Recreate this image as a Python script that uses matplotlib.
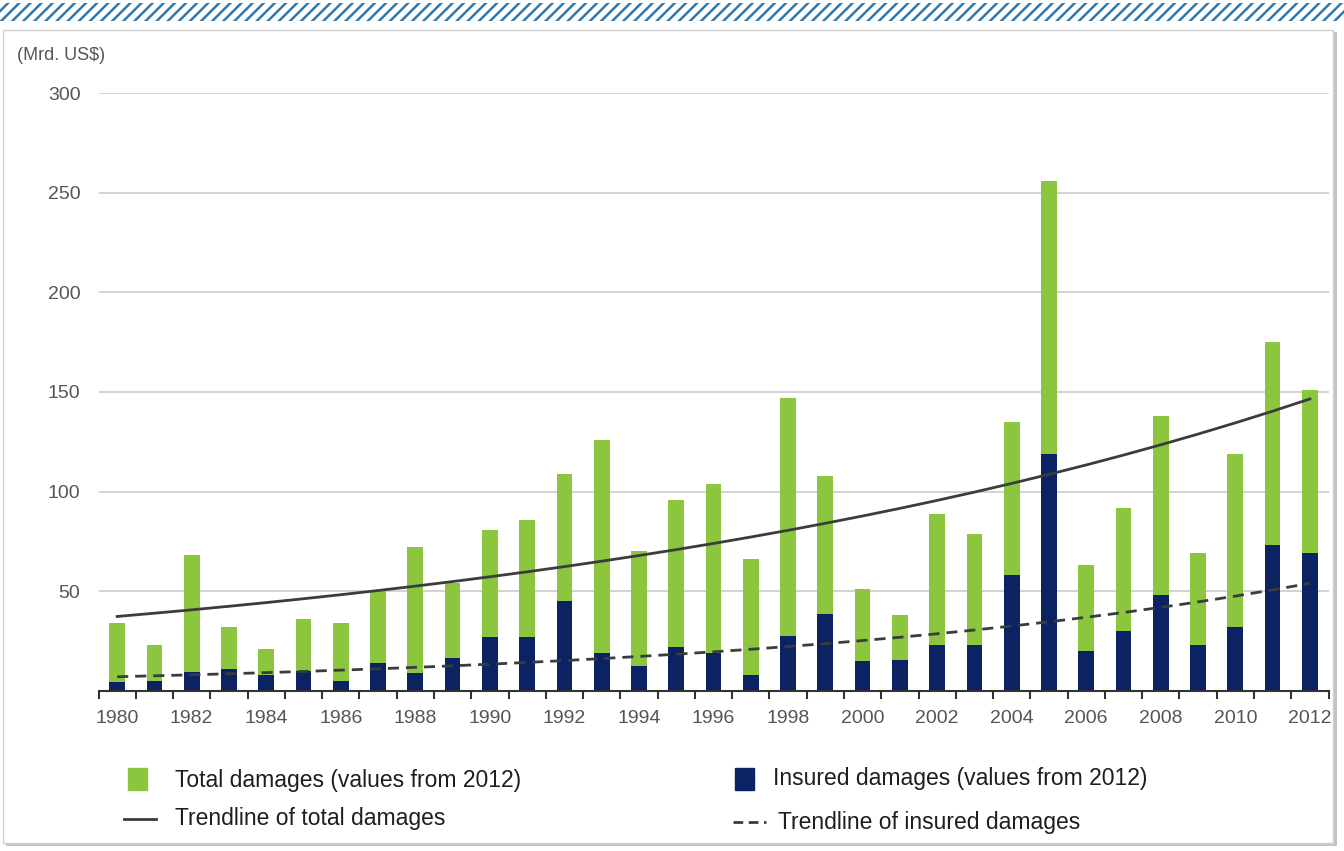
import numpy as np
import matplotlib.pyplot as plt
from matplotlib.patches import Rectangle
from matplotlib.lines import Line2D

years = np.arange(1980, 2013)
total = [34, 23, 68, 32, 21, 36, 34, 50, 72, 54, 81, 86, 109, 126, 70, 96, 104,
         66, 147, 108, 51, 38, 89, 79, 135, 256, 63, 92, 138, 69, 119, 175, 151]
insured = [4.5, 5, 9.5, 11, 8, 10, 5, 14, 9, 16.5, 27, 27, 45, 19, 12.5, 22, 19,
           8, 27.5, 38.5, 15, 15.5, 23, 23, 58, 119, 20, 30, 48, 23, 32, 73, 69]
xlabels = [str(y) for y in range(1980, 2013, 2)]

GREEN = '#8cc63e'
NAVY = '#0b2263'
TREND = '#3c3c3c'
W, H = 1344, 851

plt.rcParams['hatch.linewidth'] = 1.8
fig = plt.figure(figsize=(W / 100, H / 100), dpi=100)

# striped band and framed panel behind the chart
fig.patches.append(Rectangle((0, 1 - 21 / H), 1, 18 / H, transform=fig.transFigure,
                             facecolor='white', edgecolor='#3079b0', hatch='///',
                             linewidth=0, zorder=-3))
fig.patches.append(Rectangle((6 / W, 1 - 846 / H), 1331 / W, 814 / H,
                             transform=fig.transFigure, facecolor='#c4c4c4',
                             edgecolor='none', zorder=-3))
fig.patches.append(Rectangle((3 / W, 1 - 843 / H), 1330 / W, 813 / H,
                             transform=fig.transFigure, facecolor='white',
                             edgecolor='#d0d0d0', linewidth=1, zorder=-2))

ax = fig.add_axes([98.5 / W, 1 - 691 / H, 1230 / W, 598 / H])
ax.set_facecolor('none')
ax.set_zorder(2)

# exponential trend lines fitted to each series
t_fit = np.polyfit(years, np.log(total), 1)
i_fit = np.polyfit(years, np.log(insured), 1)
t_trend = np.exp(np.polyval(t_fit, years))
i_trend = np.exp(np.polyval(i_fit, years))

ax.bar(years, total, width=0.42, color=GREEN, zorder=2)
ax.bar(years, insured, width=0.42, color=NAVY, zorder=3)
ax.plot(years, t_trend, color=TREND, lw=2, zorder=4)
ax.plot(years, i_trend, color=TREND, lw=2, ls=(0, (4, 2.5)), zorder=4)

ax.set_xlim(1979.5, 2012.5)
ax.set_ylim(0, 300)
ax.set_yticks(range(50, 301, 50))
ax.set_yticklabels([str(v) for v in range(50, 301, 50)])
ax.yaxis.grid(True, color='#cfcfcf', lw=1.3, zorder=0)
ax.set_axisbelow(True)
ax.tick_params(axis='y', length=0, pad=13, labelsize=14, labelcolor='#555555')

ax.set_xticks(range(1980, 2013, 2))
ax.set_xticklabels(xlabels)
ax.set_xticks(np.arange(1979.5, 2013, 1), minor=True)
ax.tick_params(axis='x', which='major', length=0, pad=14, labelsize=14,
               labelcolor='#555555')
ax.tick_params(axis='x', which='minor', length=6, width=1.5, color='#333333')
for lab in ax.get_xticklabels() + ax.get_yticklabels():
    lab.set_family(['Liberation Sans', 'DejaVu Sans'])

for s in ['top', 'right', 'left']:
    ax.spines[s].set_visible(False)
ax.spines['bottom'].set_color('#333333')
ax.spines['bottom'].set_linewidth(1.5)
ax.spines['bottom'].set_zorder(5)

fig.text(17 / W, 1 - 55 / H, '(Mrd. US$)', fontsize=13, color='#555555',
         va='center', family=['Liberation Sans', 'DejaVu Sans'])

# legend below the plot
legend_font = dict(fontsize=16.5, color='#1e1e1e', va='center',
                   family=['Liberation Sans', 'DejaVu Sans'])
fig.patches.append(Rectangle((128 / W, 1 - 790 / H), 19 / W, 22 / H,
                             transform=fig.transFigure, color=GREEN))
fig.patches.append(Rectangle((735 / W, 1 - 790 / H), 19 / W, 22 / H,
                             transform=fig.transFigure, color=NAVY))
fig.lines.append(Line2D([124 / W, 156 / W], [1 - 819 / H] * 2, transform=fig.transFigure,
                        color=TREND, lw=2))
fig.lines.append(Line2D([733 / W, 766 / W], [1 - 822 / H] * 2, transform=fig.transFigure,
                        color=TREND, lw=2, ls=(0, (3.5, 2))))
fig.text(175 / W, 1 - 780 / H, 'Total damages (values from 2012)', **legend_font)
fig.text(773 / W, 1 - 778 / H, 'Insured damages (values from 2012)', **legend_font)
fig.text(175 / W, 1 - 818 / H, 'Trendline of total damages', **legend_font)
fig.text(778 / W, 1 - 822 / H, 'Trendline of insured damages', **legend_font)

fig.savefig('out.png', dpi=100, facecolor='white')
